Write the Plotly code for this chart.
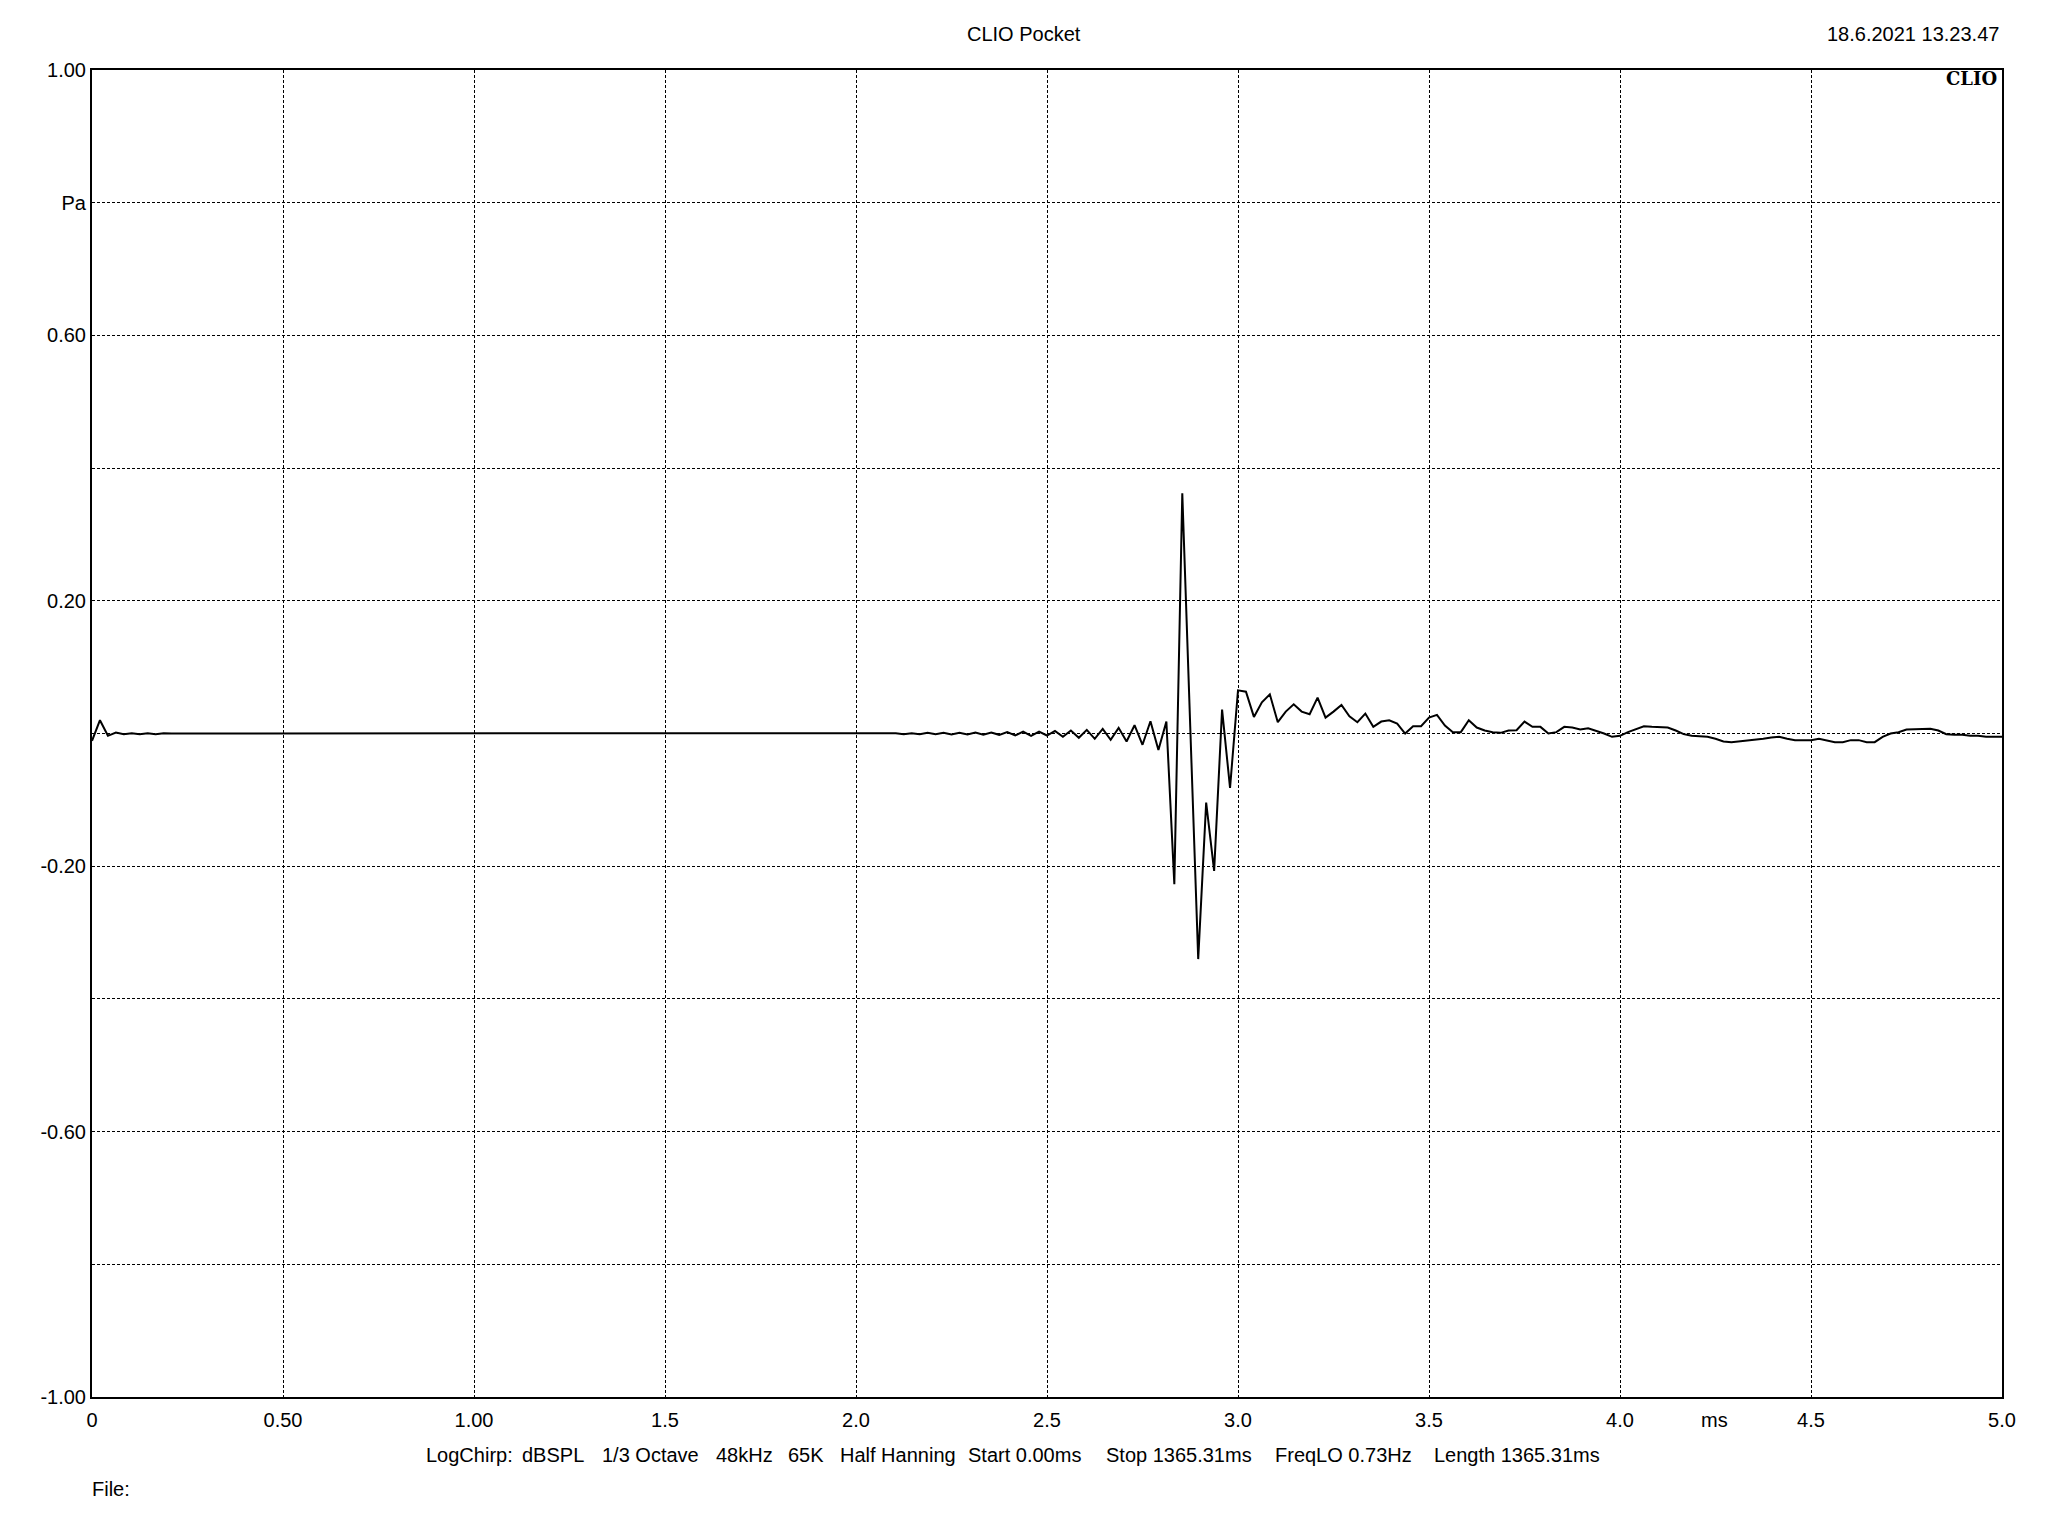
import plotly.graph_objects as go

# ---------------- data ----------------
SAMPLE_RATE_KHZ = 48  # samples per ms
pressure_pa = [
    -0.011, 0.020, -0.0035, 0.0015, -0.001, 0.0005, -0.001, 0.0005, -0.001, 0.0005,
    0.0, 0.0, 0.0, 0.0, 0.0, 0.0, 0.0, 0.0, 0.0, 0.0,
    0.0, 0.0, 0.0, 0.0, 0.0, 0.0, 0.0, 0.0, 0.0, 0.0,
    0.0, 0.0, 0.0, 0.0, 0.0, 0.0, 0.0, 0.0, 0.0, 0.0,
    0.0, 0.0, 0.0, 0.0, 0.0, 0.0, 0.0, 0.0, 0.0, 0.0,
    0.0, 0.0, 0.0, 0.0, 0.0, 0.0, 0.0, 0.0, 0.0, 0.0,
    0.0, 0.0, 0.0, 0.0, 0.0, 0.0, 0.0, 0.0, 0.0, 0.0,
    0.0, 0.0, 0.0, 0.0, 0.0, 0.0, 0.0, 0.0, 0.0, 0.0,
    0.0, 0.0, 0.0, 0.0, 0.0, 0.0, 0.0, 0.0, 0.0, 0.0,
    0.0, 0.0, 0.0, 0.0, 0.0, 0.0, 0.0, 0.0, 0.0, 0.0,
    0.0, 0.0005, -0.001, 0.0005, -0.001, 0.001, -0.001, 0.001, -0.0015, 0.001,
    -0.0015, 0.0015, -0.002, 0.0015, -0.002, 0.002, -0.003, 0.003, -0.0035, 0.003,
    -0.003, 0.004, -0.005, 0.0045, -0.0065, 0.0055, -0.008, 0.007, -0.0095, 0.0085,
    -0.012, 0.0125, -0.017, 0.0185, -0.025, 0.018, -0.227, 0.362, 0.010, -0.340,
    -0.104, -0.207, 0.036, -0.082, 0.065, 0.063, 0.025, 0.047, 0.059, 0.017,
    0.033, 0.044, 0.033, 0.029, 0.054, 0.024, 0.033, 0.043, 0.026, 0.017,
    0.030, 0.010, 0.018, 0.020, 0.015, 0.0, 0.011, 0.011, 0.024, 0.028,
    0.012, 0.002, 0.002, 0.020, 0.009, 0.0045, 0.002, 0.001, 0.0045, 0.005,
    0.018, 0.010, 0.010, 0.0, 0.002, 0.010, 0.009, 0.006, 0.008, 0.0045,
    0.0, -0.005, -0.0035, 0.002, 0.007, 0.011, 0.010, 0.010, 0.009, 0.0045,
    -0.001, -0.0035, -0.0045, -0.005, -0.008, -0.012, -0.013, -0.012, -0.011, -0.009,
    -0.008, -0.006, -0.005, -0.008, -0.010, -0.010, -0.010, -0.008, -0.011, -0.013,
    -0.013, -0.010, -0.010, -0.013, -0.013, -0.005, 0.0, 0.002, 0.006, 0.0065,
    0.0065, 0.007, 0.0045, -0.001, -0.002, -0.002, -0.0035, -0.0035, -0.005, -0.005,
    -0.005,
]
time_ms = [i / SAMPLE_RATE_KHZ for i in range(len(pressure_pa))]

x_tick_values = [0, 0.5, 1.0, 1.5, 2.0, 2.5, 3.0, 3.5, 4.0, 4.5, 5.0]
x_tick_labels = ["0", "0.50", "1.00", "1.5", "2.0", "2.5", "3.0", "3.5", "4.0", "4.5", "5.0"]
y_tick_values = [1.0, 0.8, 0.6, 0.4, 0.2, 0.0, -0.2, -0.4, -0.6, -0.8, -1.0]
y_tick_labels = ["1.00", "Pa", "0.60", "", "0.20", "", "-0.20", "", "-0.60", "", "-1.00"]

title_text = "CLIO Pocket"
date_text = "18.6.2021 13.23.47"
logo_text = "CLIO"
x_unit_text = "ms"
file_text = "File:"
info_items = ["LogChirp:", "dBSPL", "1/3 Octave", "48kHz", "65K", "Half Hanning",
              "Start 0.00ms", "Stop 1365.31ms", "FreqLO 0.73Hz", "Length 1365.31ms"]

# ---------------- layout geometry (page pixels) ----------------
PAGE_W, PAGE_H = 2048, 1536
BODY = 8  # default body margin of the html page
PLOT_L, PLOT_R, PLOT_T, PLOT_B = 92, 2002, 70, 1397
PW, PH = PLOT_R - PLOT_L, PLOT_B - PLOT_T


def px(xp):
    return (xp - PLOT_L) / PW


def py(yp):
    return (PLOT_B - yp) / PH


FONT = "Liberation Sans, Arial, sans-serif"
FS = 20

fig = go.Figure()
fig.add_trace(go.Scatter(
    x=time_ms, y=pressure_pa, mode="lines",
    line=dict(color="black", width=2), hoverinfo="skip", showlegend=False,
))

grid = dict(showgrid=True, gridcolor="black", gridwidth=1, griddash="3px,2px",
            showline=True, linecolor="black", linewidth=2, mirror=True,
            zeroline=False, ticks="", automargin=False,
            tickfont=dict(family=FONT, size=FS, color="black"))

fig.update_xaxes(range=[0, 5.0], tickmode="array", tickvals=x_tick_values,
                 ticktext=x_tick_labels, ticklabelstandoff=4, **grid)
fig.update_yaxes(range=[-1.0, 1.0], tickmode="array", tickvals=y_tick_values,
                 ticktext=y_tick_labels, ticklabelstandoff=0, **grid)

ann = []
ann.append(dict(text=title_text, x=px(1024), y=py(34), xanchor="center", yanchor="middle"))
ann.append(dict(text=date_text, x=px(2001), y=py(34), xanchor="right", yanchor="middle"))
ann.append(dict(text=x_unit_text, x=px(1714), y=py(1420), xanchor="center", yanchor="middle"))
ann.append(dict(text=file_text, x=px(90), y=py(1489), xanchor="left", yanchor="middle"))
info_left = [424, 520, 600, 714, 786, 838, 966, 1104, 1273, 1432]
for t, xl in zip(info_items, info_left):
    ann.append(dict(text=t, x=px(xl), y=py(1455), xanchor="left", yanchor="middle"))
for a in ann:
    a.update(xref="paper", yref="paper", showarrow=False,
             font=dict(family=FONT, size=FS, color="black"))
ann.append(dict(text="<b>" + logo_text + "</b>", x=px(1999), y=py(79), xref="paper", yref="paper",
                xanchor="right", yanchor="middle", showarrow=False,
                font=dict(family="DejaVu Serif, serif", size=18, color="black")))
fig.update_layout(annotations=ann)

fig.update_layout(
    width=PAGE_W - 2 * BODY, height=PAGE_H - 2 * BODY,
    margin=dict(l=PLOT_L - BODY, r=PAGE_W - PLOT_R - BODY, t=PLOT_T - BODY, b=PAGE_H - PLOT_B - BODY,
                pad=0, autoexpand=False),
    paper_bgcolor="white", plot_bgcolor="white",
    showlegend=False,
)

fig.write_html("out.html", config={"displayModeBar": False})
